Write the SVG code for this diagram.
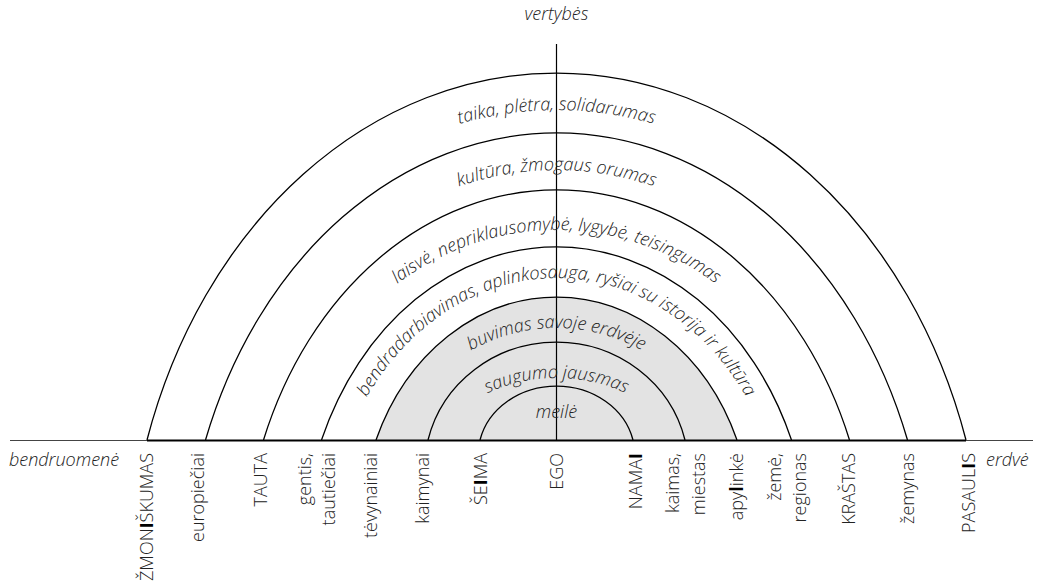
<svg xmlns="http://www.w3.org/2000/svg" width="1038" height="585" viewBox="0 0 1038 585">
<style>
.arc{fill:none;stroke:#000;stroke-width:1.3}
.lbl{font-family:"Open Sans","Liberation Sans",sans-serif;font-weight:300;font-size:18px;fill:#222}
.it{font-family:"Open Sans","Liberation Sans",sans-serif;font-style:italic;font-weight:300;font-size:18px;fill:#222}
.ax{font-family:"Open Sans","Liberation Sans",sans-serif;font-style:italic;font-weight:300;font-size:18px;fill:#222}
.b{font-weight:700;fill:#000}
</style>
<defs>
<path id="tpA" d="M 167.1 440 A 412 490 0 0 1 945.9 440"/>
<path id="tpB" d="M 225.9 440 A 354 420 0 0 1 887.1 440"/>
<path id="tpC" d="M 287.8 440 A 285 315 0 0 1 825.2 440"/>
<path id="tpD" d="M 346.6 440 A 230 274 0 0 1 766.4 440"/>
<path id="tpE" d="M 391.6 440 A 180 187 0 0 1 721.4 440"/>
<path id="tpF" d="M 445.6 440 A 112 72 0 0 1 667.4 440"/>
</defs>
<rect width="1038" height="585" fill="#fff"/>

<g id="shade">
<path d="M 376 440 A 195.7 233 0 0 1 737 440 Z" fill="#e3e3e3"/>
</g>

<g id="arcs">
<path class="arc" d="M 480 440 A 78.4 69 0 0 1 633 440"/>
<path class="arc" d="M 428 440 A 132.2 128 0 0 1 685 440"/>
<path class="arc" d="M 376 440 A 195.7 233 0 0 1 737 440"/>
<path class="arc" d="M 321.5 440 A 254.4 313 0 0 1 791.5 440"/>
<path class="arc" d="M 263.5 440 A 313.9 390 0 0 1 849.5 440"/>
<path class="arc" d="M 205.5 440 A 373.6 467 0 0 1 907.5 440"/>
<path class="arc" d="M 147 440 A 429.8 527 0 0 1 966 440"/>
</g>

<g id="axes">
<line x1="10" y1="440.5" x2="147" y2="440.5" stroke="#444" stroke-width="1"/>
<line x1="147" y1="440.5" x2="966" y2="440.5" stroke="#000" stroke-width="2"/>
<line x1="966" y1="440.5" x2="1033" y2="440.5" stroke="#444" stroke-width="1"/>
<line x1="556.5" y1="44" x2="556.5" y2="440" stroke="#000" stroke-width="1.2"/>
</g>

<g id="values">
<text class="it"><textPath href="#tpA" startOffset="50%" text-anchor="middle">taika, plėtra, solidarumas</textPath></text>
<text class="it"><textPath href="#tpB" startOffset="50%" text-anchor="middle">kultūra, žmogaus orumas</textPath></text>
<text class="it"><textPath href="#tpC" startOffset="50%" text-anchor="middle">laisvė, nepriklausomybė, lygybė, teisingumas</textPath></text>
<text class="it"><textPath href="#tpD" startOffset="50%" text-anchor="middle">bendradarbiavimas, aplinkosauga, ryšiai su istorija ir kultūra</textPath></text>
<text class="it"><textPath href="#tpE" startOffset="50%" text-anchor="middle">buvimas savoje erdvėje</textPath></text>
<text class="it"><textPath href="#tpF" startOffset="50%" text-anchor="middle">saugumo jausmas</textPath></text>
<text class="it" x="556.5" y="418" text-anchor="middle">meilė</text>
</g>

<g id="axis-labels">
<text class="ax" x="556.5" y="20" text-anchor="middle">vertybės</text>
<text class="ax" x="9" y="466">bendruomenė</text>
<text class="ax" x="986" y="466">erdvė</text>
</g>

<g id="n-zmoniskumas"><text class="lbl" text-anchor="end" transform="translate(153,453) rotate(-90)">ŽMON<tspan class="b">I</tspan>ŠKUMAS</text></g>
<g id="n-europieciai"><text class="lbl" text-anchor="end" transform="translate(204,453) rotate(-90)">europiečiai</text></g>
<g id="n-tauta"><text class="lbl" text-anchor="end" transform="translate(266.5,453) rotate(-90)">TAUTA</text></g>
<g id="n-gentis">
<text class="lbl" text-anchor="end" transform="translate(311,453) rotate(-90)">gentis,</text>
<text class="lbl" text-anchor="end" transform="translate(335,453) rotate(-90)">tautiečiai</text>
</g>
<g id="n-tevynainiai"><text class="lbl" text-anchor="end" transform="translate(377,453) rotate(-90)">tėvynainiai</text></g>
<g id="n-kaimynai"><text class="lbl" text-anchor="end" transform="translate(429,453) rotate(-90)">kaimynai</text></g>
<g id="n-seima"><text class="lbl" text-anchor="end" transform="translate(486.5,453) rotate(-90)">ŠE<tspan class="b">I</tspan>MA</text></g>
<g id="n-ego"><text class="lbl" text-anchor="end" transform="translate(563,453) rotate(-90)">EGO</text></g>
<g id="n-namai"><text class="lbl" text-anchor="end" transform="translate(641.5,453) rotate(-90)">NAMA<tspan class="b">I</tspan></text></g>
<g id="n-kaimas">
<text class="lbl" text-anchor="end" transform="translate(679,453) rotate(-90)">kaimas,</text>
<text class="lbl" text-anchor="end" transform="translate(705,453) rotate(-90)">miestas</text>
</g>
<g id="n-apylinke"><text class="lbl" text-anchor="end" transform="translate(742.5,453) rotate(-90)">apy<tspan class="b">l</tspan>inkė</text></g>
<g id="n-zeme">
<text class="lbl" text-anchor="end" transform="translate(781,453) rotate(-90)">žemė,</text>
<text class="lbl" text-anchor="end" transform="translate(806,453) rotate(-90)">regionas</text>
</g>
<g id="n-krastas"><text class="lbl" text-anchor="end" transform="translate(855,453) rotate(-90)">KRAŠTAS</text></g>
<g id="n-zemynas"><text class="lbl" text-anchor="end" transform="translate(914,453) rotate(-90)">žemynas</text></g>
<g id="n-pasaulis"><text class="lbl" text-anchor="end" transform="translate(975,453) rotate(-90)">PASAUL<tspan class="b">I</tspan>S</text></g>
</svg>
